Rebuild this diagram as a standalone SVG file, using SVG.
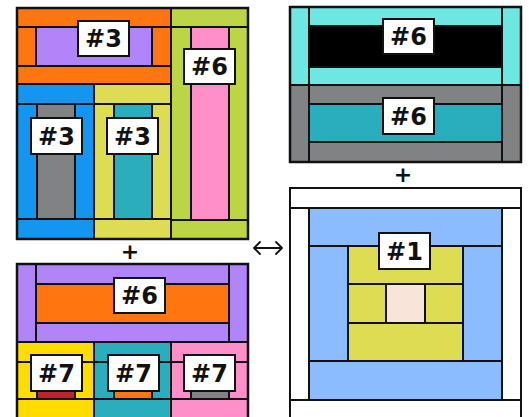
<svg xmlns="http://www.w3.org/2000/svg" width="529" height="417" viewBox="0 0 529 417">
<style>
rect{stroke:#111;stroke-width:2}
.o{fill:#FF7510}.p{fill:#B185F7}.g{fill:#BCD544}.k{fill:#FF8FC8}.b{fill:#1496F0}.gr{fill:#808284}
.y{fill:#DEDC52}.t{fill:#2AAEBD}.c{fill:#6EE6E2}.bk{fill:#000}.lb{fill:#8BBCFF}.pe{fill:#F8E4D8}
.ye{fill:#FFDC00}.r{fill:#C3202F}.w{fill:#fff}
.frame{fill:none;stroke:#111;stroke-width:2.5}
.lbl rect{fill:#fff;stroke:#111;stroke-width:2}
.lbl text{font-family:"DejaVu Sans",sans-serif;font-weight:bold;font-size:24px;fill:#111;text-anchor:middle}
.plus{font-family:"DejaVu Sans",sans-serif;font-weight:bold;font-size:22px;fill:#111;text-anchor:middle}
</style>
<rect x="0" y="0" width="529" height="417" fill="#fff" style="stroke:none"/>
<g id="block-top-left">
<rect class="o" x="17" y="8" width="154" height="19"/>
<rect class="o" x="17" y="27" width="19" height="39"/>
<rect class="p" x="36" y="27" width="116" height="39"/>
<rect class="o" x="152" y="27" width="19" height="39"/>
<rect class="o" x="17" y="66" width="154" height="18"/>
<rect class="g" x="171" y="8" width="77" height="19"/>
<rect class="g" x="171" y="27" width="20" height="193"/>
<rect class="k" x="191" y="27" width="38" height="193"/>
<rect class="g" x="229" y="27" width="19" height="193"/>
<rect class="g" x="171" y="220" width="77" height="19"/>
<rect class="b" x="17" y="84" width="77" height="20"/>
<rect class="b" x="17" y="104" width="20" height="115"/>
<rect class="gr" x="37" y="104" width="38" height="115"/>
<rect class="b" x="75" y="104" width="19" height="115"/>
<rect class="b" x="17" y="219" width="77" height="20"/>
<rect class="y" x="94" y="84" width="77" height="20"/>
<rect class="y" x="94" y="104" width="20" height="115"/>
<rect class="t" x="114" y="104" width="38" height="115"/>
<rect class="y" x="152" y="104" width="19" height="115"/>
<rect class="y" x="94" y="219" width="77" height="20"/>
<rect class="frame" x="17" y="8" width="231" height="231"/>
<g class="lbl" id="label-tl-1"><rect x="78" y="21" width="51" height="35"/><text x="103.5" y="47.3">#3</text></g>
<g class="lbl" id="label-tl-2"><rect x="184" y="49" width="51" height="35"/><text x="209.5" y="75.3">#6</text></g>
<g class="lbl" id="label-tl-3"><rect x="31" y="118" width="51" height="36"/><text x="56.5" y="144.7">#3</text></g>
<g class="lbl" id="label-tl-4"><rect x="107" y="118" width="51" height="36"/><text x="132.5" y="144.7">#3</text></g>
</g>
<g id="block-top-right">
<rect class="c" x="290" y="7" width="19" height="78"/>
<rect class="c" x="502" y="7" width="19" height="78"/>
<rect class="c" x="309" y="7" width="193" height="19"/>
<rect class="bk" x="309" y="26" width="193" height="41"/>
<rect class="c" x="309" y="67" width="193" height="18"/>
<rect class="gr" x="290" y="85" width="19" height="77"/>
<rect class="gr" x="502" y="85" width="19" height="77"/>
<rect class="gr" x="309" y="85" width="193" height="19"/>
<rect class="t" x="309" y="104" width="193" height="38"/>
<rect class="gr" x="309" y="142" width="193" height="20"/>
<rect class="frame" x="290" y="7" width="231" height="155"/>
<g class="lbl" id="label-tr-1"><rect x="383" y="19" width="51" height="35"/><text x="408.5" y="45.3">#6</text></g>
<g class="lbl" id="label-tr-2"><rect x="383" y="98" width="51" height="36"/><text x="408.5" y="124.7">#6</text></g>
</g>
<g id="block-bottom-right">
<rect class="w" x="290" y="188" width="231" height="20"/>
<rect class="w" x="290" y="208" width="19" height="192"/>
<rect class="w" x="502" y="208" width="19" height="192"/>
<rect class="lb" x="309" y="208" width="193" height="38"/>
<rect class="lb" x="309" y="246" width="39" height="115"/>
<rect class="lb" x="463" y="246" width="39" height="115"/>
<rect class="y" x="348" y="246" width="115" height="38"/>
<rect class="y" x="348" y="284" width="38" height="39"/>
<rect class="pe" x="386" y="284" width="39" height="39"/>
<rect class="y" x="425" y="284" width="38" height="39"/>
<rect class="y" x="348" y="323" width="115" height="38"/>
<rect class="lb" x="309" y="361" width="193" height="39"/>
<rect class="w" x="290" y="400" width="231" height="22"/>
<g class="lbl" id="label-br-1"><rect x="379" y="233" width="51" height="36"/><text x="404.5" y="259.7">#1</text></g>
</g>
<g id="block-bottom-left">
<rect class="p" x="17" y="264" width="19" height="78"/>
<rect class="p" x="229" y="264" width="19" height="78"/>
<rect class="p" x="36" y="264" width="193" height="20"/>
<rect class="o" x="36" y="284" width="193" height="39"/>
<rect class="p" x="36" y="323" width="193" height="19"/>
<rect class="ye" x="17" y="342" width="77" height="20"/>
<rect class="ye" x="17" y="362" width="20" height="37"/>
<rect class="r" x="37" y="362" width="38" height="37"/>
<rect class="ye" x="75" y="362" width="19" height="37"/>
<rect class="ye" x="17" y="399" width="77" height="22"/>
<rect class="t" x="94" y="342" width="77" height="20"/>
<rect class="t" x="94" y="362" width="20" height="37"/>
<rect class="o" x="114" y="362" width="38" height="37"/>
<rect class="t" x="152" y="362" width="19" height="37"/>
<rect class="t" x="94" y="399" width="77" height="22"/>
<rect class="k" x="171" y="342" width="77" height="20"/>
<rect class="k" x="171" y="362" width="20" height="37"/>
<rect class="gr" x="191" y="362" width="38" height="37"/>
<rect class="k" x="229" y="362" width="19" height="37"/>
<rect class="k" x="171" y="399" width="77" height="22"/>
<rect class="frame" x="17" y="264" width="231" height="158"/>
<g class="lbl" id="label-bl-1"><rect x="114" y="278" width="51" height="35"/><text x="139.5" y="304.3">#6</text></g>
<g class="lbl" id="label-bl-2"><rect x="31" y="355" width="51" height="36"/><text x="56.5" y="381.7">#7</text></g>
<g class="lbl" id="label-bl-3"><rect x="108" y="355" width="51" height="36"/><text x="133.5" y="381.7">#7</text></g>
<g class="lbl" id="label-bl-4"><rect x="184" y="355" width="51" height="36"/><text x="209.5" y="381.7">#7</text></g>
</g>
<g id="connectors" fill="none" stroke="#111" stroke-width="1.8" stroke-linecap="round" stroke-linejoin="round">
<path d="M254,248 H282 M260,242 L254,248 L260,254 M276,242 L282,248 L276,254"/>
</g>
<text class="plus" x="130" y="259">+</text>
<text class="plus" x="403" y="182">+</text>
</svg>
